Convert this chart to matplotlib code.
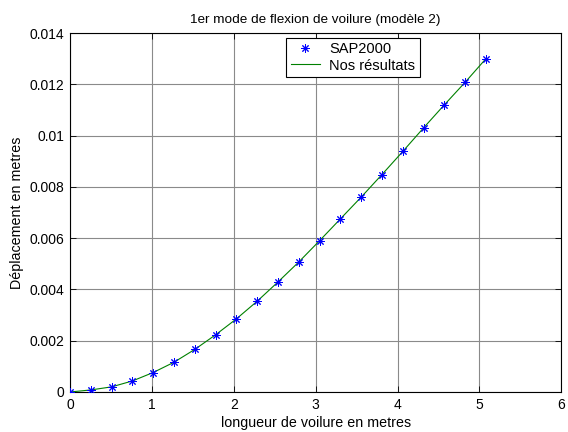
import matplotlib
matplotlib.use('Agg')
import matplotlib.pyplot as plt
import numpy as np

plt.rcParams['font.family'] = ['Liberation Sans', 'DejaVu Sans']

# positions le long de la voilure (m)
longueur = [0.0, 0.254, 0.508, 0.762, 1.016, 1.27, 1.524, 1.778, 2.032, 2.286,
            2.54, 2.794, 3.048, 3.302, 3.556, 3.81, 4.064, 4.318, 4.572, 4.826, 5.08]
# deplacements SAP2000 (m)
sap2000 = [0.0, 0.00008, 0.0002, 0.00043, 0.00076, 0.00116, 0.00166, 0.00223, 0.00285, 0.00354,
           0.00429, 0.00507, 0.0059, 0.00675, 0.0076, 0.00848, 0.00938, 0.0103, 0.0112, 0.01208, 0.013]
# nos resultats (m)
nos_resultats = [0.0, 0.00008, 0.0002, 0.00043, 0.00076, 0.00116, 0.00166, 0.00223, 0.00285, 0.00354,
                 0.00429, 0.00507, 0.0059, 0.00675, 0.0076, 0.00848, 0.00938, 0.0103, 0.0112, 0.01208, 0.013]

xticks = [0, 1, 2, 3, 4, 5, 6]
yticks = [0, 0.002, 0.004, 0.006, 0.008, 0.01, 0.012, 0.014]
ytick_labels = ['0', '0.002', '0.004', '0.006', '0.008', '0.01', '0.012', '0.014']

fig = plt.figure(figsize=(5.68, 4.32), dpi=100)
ax = fig.add_axes([0.1232, 0.0926, 0.865, 0.831])

ax.plot(longueur, sap2000, linestyle='none', marker=(8, 2, 0), markersize=6,
        markeredgewidth=0.7, color='blue', label='SAP2000', zorder=3)
ax.plot(longueur, nos_resultats, color='#008000', linewidth=0.8, label='Nos résultats', zorder=2)

ax.set_xlim(0, 6)
ax.set_ylim(0, 0.014)
ax.set_xticks(xticks)
ax.set_xticklabels([str(t) for t in xticks])
ax.set_yticks(yticks)
ax.set_yticklabels(ytick_labels)
ax.tick_params(direction='in', top=True, right=True, labelsize=10, length=4, width=0.6, pad=4)
ax.grid(True, color='#8a8a8a', linewidth=0.8, linestyle='-')
ax.set_axisbelow(True)
for sp in ax.spines.values():
    sp.set_linewidth(0.8)

ax.set_xlabel('longueur de voilure en metres', fontsize=10.3, labelpad=3)
ax.set_ylabel('Déplacement en metres', fontsize=10.3, labelpad=4)
ax.set_title('1er mode de flexion de voilure (modèle 2)', fontsize=9.7, pad=7)

leg = ax.legend(loc='upper left', bbox_to_anchor=(0.44, 0.986), borderaxespad=0,
                fontsize=10.5, fancybox=False, framealpha=1, edgecolor='black',
                handlelength=2.0, borderpad=0.3, labelspacing=0.15, handletextpad=0.65)
leg.get_frame().set_linewidth(0.8)

fig.savefig('out.png', dpi=100)
